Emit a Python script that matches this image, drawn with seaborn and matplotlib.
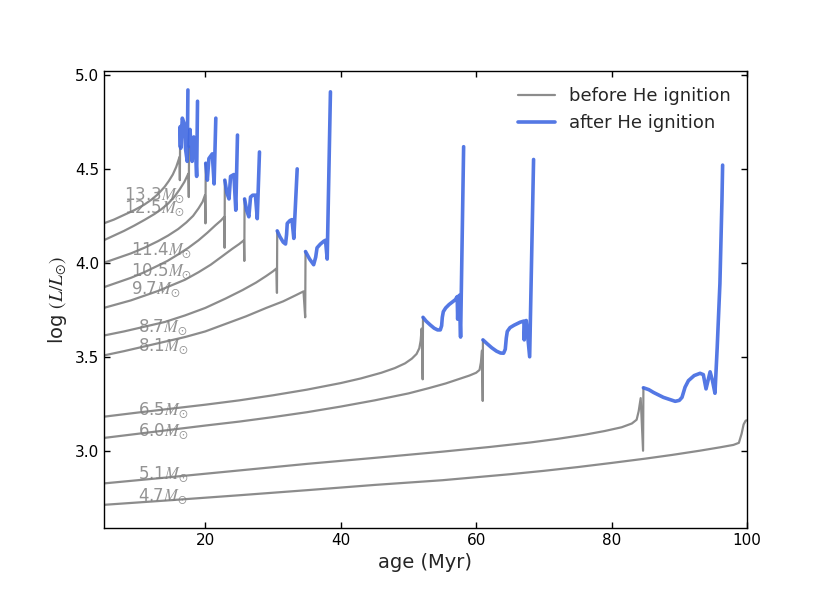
import matplotlib
matplotlib.use("Agg")
import matplotlib.pyplot as plt
from matplotlib.lines import Line2D
import pandas as pd
import seaborn as sns

# stellar masses of the tracks (Msun), top to bottom
masses = [13.3, 12.5, 11.4, 10.5, 9.7, 8.7, 8.1, 6.5, 6.0, 5.1, 4.7]

# where the mass labels sit (age, log L at baseline)
label_ages = [8.0, 8.0, 9.0, 9.0, 9.0, 10.0, 10.0, 10.0, 10.0, 10.0, 10.0]
label_lums = [4.337, 4.266, 4.045, 3.933, 3.836, 3.635, 3.533, 3.19, 3.08, 2.849, 2.733]

# ---- 13.3 Msun ----
pre_13_3_age = [5.0, 6.5, 8.0, 9.5, 11.0, 12.0, 13.0, 14.0, 14.6, 15.2, 15.7, 16.2,
                16.24, 16.27]
pre_13_3_lum = [4.21, 4.23, 4.255, 4.28, 4.31, 4.335, 4.365, 4.405, 4.435, 4.47, 4.51, 4.564,
                4.44, 4.62]
post_13_3_age = [16.27, 16.30, 16.37, 16.6, 16.85, 17.1, 17.33, 17.43]
post_13_3_lum = [4.62, 4.725, 4.61, 4.77, 4.745, 4.60, 4.54, 4.92]

# ---- 12.5 Msun ----
pre_12_5_age = [5.0, 6.5, 8.0, 9.5, 11.0, 12.5, 13.5, 14.5, 15.4, 16.2, 16.9, 17.5,
                17.56, 17.6]
pre_12_5_lum = [4.12, 4.145, 4.17, 4.198, 4.228, 4.26, 4.285, 4.315, 4.35, 4.39, 4.43, 4.475,
                4.35, 4.62]
post_12_5_age = [17.6, 17.73, 18.05, 18.3, 18.5, 18.72, 18.85]
post_12_5_lum = [4.62, 4.71, 4.54, 4.67, 4.64, 4.46, 4.86]

# ---- 11.4 Msun ----
pre_11_4_age = [5.0, 7.0, 9.0, 11.0, 13.0, 14.5, 16.0, 17.2, 18.2, 19.0, 19.6, 19.95,
                20.02, 20.06]
pre_11_4_lum = [4.0, 4.025, 4.05, 4.08, 4.115, 4.145, 4.18, 4.215, 4.25, 4.29, 4.325, 4.36,
                4.21, 4.53]
post_11_4_age = [20.06, 20.3, 20.53, 21.03, 21.3, 21.55]
post_11_4_lum = [4.53, 4.44, 4.555, 4.58, 4.42, 4.77]

# ---- 10.5 Msun ----
pre_10_5_age = [5.0, 7.0, 9.0, 11.0, 13.0, 14.4, 16.0, 17.5, 19.0, 20.3, 21.5, 22.3,
                22.8, 22.85, 22.88]
pre_10_5_lum = [3.87, 3.895, 3.92, 3.95, 3.985, 4.01, 4.045, 4.08, 4.12, 4.16, 4.2, 4.225,
                4.245, 4.08, 4.44]
post_10_5_age = [22.88, 23.2, 23.5, 23.73, 24.22, 24.5, 24.75]
post_10_5_lum = [4.44, 4.37, 4.34, 4.46, 4.47, 4.28, 4.68]

# ---- 9.7 Msun ----
pre_9_7_age = [5.0, 7.0, 9.0, 11.0, 13.0, 15.0, 17.0, 19.0, 20.8, 22.5, 24.0, 25.0,
               25.7, 25.76, 25.8]
pre_9_7_lum = [3.76, 3.78, 3.80, 3.825, 3.85, 3.88, 3.91, 3.95, 3.99, 4.035, 4.075, 4.10,
               4.12, 4.01, 4.34]
post_9_7_age = [25.8, 26.1, 26.43, 26.68, 27.0, 27.4, 27.67, 28.0]
post_9_7_lum = [4.34, 4.28, 4.245, 4.35, 4.36, 4.36, 4.235, 4.59]

# ---- 8.7 Msun ----
pre_8_7_age = [5.0, 8.0, 11.0, 14.0, 17.0, 20.0, 23.0, 25.5, 27.5, 29.0, 30.0, 30.5,
               30.58, 30.62]
pre_8_7_lum = [3.613, 3.635, 3.66, 3.685, 3.72, 3.76, 3.81, 3.855, 3.895, 3.93, 3.955, 3.97,
               3.84, 4.17]
post_8_7_age = [30.62, 31.0, 31.5, 31.85, 32.0, 32.1, 32.5, 32.8, 33.07, 33.57]
post_8_7_lum = [4.17, 4.14, 4.11, 4.10, 4.15, 4.21, 4.225, 4.23, 4.13, 4.50]

# ---- 8.1 Msun ----
pre_8_1_age = [5.0, 8.0, 11.0, 14.0, 17.0, 20.0, 23.0, 26.0, 29.0, 31.5, 33.5, 34.5,
               34.75, 34.8]
pre_8_1_lum = [3.507, 3.53, 3.555, 3.58, 3.605, 3.635, 3.675, 3.715, 3.76, 3.795, 3.83, 3.848,
               3.71, 4.06]
post_8_1_age = [34.8, 35.4, 36.0, 36.3, 36.5, 37.0, 37.5, 37.75, 38.0, 38.48]
post_8_1_lum = [4.06, 4.02, 3.99, 4.03, 4.08, 4.10, 4.115, 4.12, 4.02, 4.91]

# ---- 6.5 Msun ----
pre_6_5_age = [5.0, 10.0, 15.0, 20.0, 25.0, 30.0, 35.0, 40.0, 43.0, 46.0, 48.0, 49.5,
               50.5, 51.2, 51.6, 51.8, 51.95, 52.1, 52.15]
pre_6_5_lum = [3.181, 3.203, 3.224, 3.245, 3.268, 3.295, 3.325, 3.36, 3.385, 3.415, 3.44, 3.465,
               3.49, 3.515, 3.545, 3.585, 3.65, 3.38, 3.71]
post_6_5_age = [52.15, 52.6, 53.2, 53.8, 54.3, 54.7, 54.9, 55.0, 55.15, 55.5, 56.0, 56.5,
                56.93, 57.2, 57.27, 57.35, 57.5, 57.7, 58.15]
post_6_5_lum = [3.71, 3.69, 3.67, 3.652, 3.643, 3.643, 3.665, 3.71, 3.74, 3.76, 3.778, 3.792,
                3.804, 3.82, 3.70, 3.81, 3.827, 3.605, 4.618]

# ---- 6.0 Msun ----
pre_6_0_age = [5.0, 10.0, 15.0, 20.0, 25.0, 30.0, 35.0, 40.0, 45.0, 50.0, 53.0, 55.5,
               57.5, 59.0, 60.0, 60.5, 60.7, 60.86, 60.97, 61.0]
pre_6_0_lum = [3.068, 3.09, 3.112, 3.134, 3.155, 3.179, 3.205, 3.235, 3.268, 3.305, 3.333, 3.358,
               3.382, 3.40, 3.415, 3.43, 3.47, 3.533, 3.265, 3.59]
post_6_0_age = [61.0, 61.6, 62.3, 63.0, 63.6, 64.05, 64.3, 64.45, 64.6, 65.0, 65.6, 66.5,
                67.05, 67.1, 67.2, 67.4, 67.9, 68.48]
post_6_0_lum = [3.59, 3.57, 3.548, 3.53, 3.52, 3.519, 3.54, 3.60, 3.635, 3.655, 3.668, 3.684,
                3.69, 3.59, 3.68, 3.693, 3.50, 4.55]

# ---- 5.1 Msun ----
pre_5_1_age = [5.0, 15.0, 25.0, 35.0, 45.0, 55.0, 62.0, 68.0, 72.0, 76.0, 79.0, 81.5,
               83.0, 83.7, 84.0, 84.3, 84.65, 84.7]
pre_5_1_lum = [2.826, 2.86, 2.895, 2.93, 2.962, 2.995, 3.02, 3.044, 3.063, 3.085, 3.105, 3.125,
               3.145, 3.165, 3.21, 3.28, 3.0, 3.335]
post_5_1_age = [84.7, 85.5, 86.2, 87.65, 89.4, 90.0, 90.4, 90.85, 91.35, 92.2, 93.07,
                93.55, 93.95, 94.55, 94.9, 95.27, 95.6, 96.0, 96.3, 96.4]
post_5_1_lum = [3.335, 3.325, 3.31, 3.284, 3.263, 3.268, 3.284, 3.338, 3.373, 3.40, 3.412,
                3.405, 3.329, 3.42, 3.373, 3.306, 3.55, 3.89, 4.33, 4.52]

# ---- 4.7 Msun (no He ignition within 100 Myr) ----
pre_4_7_age = [5.0, 15.0, 25.0, 35.0, 45.0, 55.0, 65.0, 70.0, 75.0, 80.0, 85.0, 89.0,
               93.0, 96.0, 98.0, 98.8, 99.2, 99.5, 99.8, 100.0]
pre_4_7_lum = [2.712, 2.737, 2.763, 2.79, 2.818, 2.843, 2.875, 2.893, 2.913, 2.935, 2.958, 2.978,
               3.0, 3.018, 3.031, 3.042, 3.09, 3.14, 3.16, 3.162]
post_4_7_age = []
post_4_7_lum = []

tracks = [
    (pre_13_3_age, pre_13_3_lum, post_13_3_age, post_13_3_lum),
    (pre_12_5_age, pre_12_5_lum, post_12_5_age, post_12_5_lum),
    (pre_11_4_age, pre_11_4_lum, post_11_4_age, post_11_4_lum),
    (pre_10_5_age, pre_10_5_lum, post_10_5_age, post_10_5_lum),
    (pre_9_7_age, pre_9_7_lum, post_9_7_age, post_9_7_lum),
    (pre_8_7_age, pre_8_7_lum, post_8_7_age, post_8_7_lum),
    (pre_8_1_age, pre_8_1_lum, post_8_1_age, post_8_1_lum),
    (pre_6_5_age, pre_6_5_lum, post_6_5_age, post_6_5_lum),
    (pre_6_0_age, pre_6_0_lum, post_6_0_age, post_6_0_lum),
    (pre_5_1_age, pre_5_1_lum, post_5_1_age, post_5_1_lum),
    (pre_4_7_age, pre_4_7_lum, post_4_7_age, post_4_7_lum),
]

PRE = "before He ignition"
POST = "after He ignition"

# long-form table: one row per point
rows = []
for m, (a0, l0, a1, l1) in zip(masses, tracks):
    for a, l in zip(a0, l0):
        rows.append({"age": a, "logL": l, "mass": m, "phase": PRE})
    for a, l in zip(a1, l1):
        rows.append({"age": a, "logL": l, "mass": m, "phase": POST})
df = pd.DataFrame(rows)

sns.set_theme(style="ticks")
plt.rcParams["font.family"] = ["DejaVu Sans"]
plt.rcParams["mathtext.fontset"] = "stix"
plt.rcParams["axes.edgecolor"] = "black"
plt.rcParams["xtick.color"] = "black"
plt.rcParams["ytick.color"] = "black"

colors = {PRE: "gray", POST: "royalblue"}
widths = {PRE: 1.6, POST: 2.6}

fig, ax = plt.subplots(figsize=(8.3, 5.93), dpi=100)
sns.lineplot(data=df, x="age", y="logL", hue="phase", size="phase",
             hue_order=[PRE, POST], size_order=[PRE, POST],
             palette=colors, sizes=widths, units="mass", estimator=None,
             sort=False, alpha=0.9, legend=False, ax=ax)

for m, xa, yl in zip(masses, label_ages, label_lums):
    ax.text(xa, yl, f"{m}" + r"$M_{\odot}$", color="gray", alpha=0.85,
            fontsize=12, ha="left", va="baseline")

ax.set_xlim(5, 100)
ax.set_ylim(2.59, 5.02)
ax.set_xticks([20, 40, 60, 80, 100])
ax.set_yticks([3.0, 3.5, 4.0, 4.5, 5.0])
ax.tick_params(direction="in", top=True, right=True, labelsize=11,
               length=4, width=1)
for s in ax.spines.values():
    s.set_linewidth(1)
ax.set_xlabel("age (Myr)", fontsize=14)
ax.set_ylabel(r"log $(L/L_{\odot})$", fontsize=14)

handles = [Line2D([], [], color=colors[PRE], lw=widths[PRE], alpha=0.9),
           Line2D([], [], color=colors[POST], lw=widths[POST], alpha=0.9)]
ax.legend(handles, [PRE, POST], loc="upper right", frameon=False, fontsize=13)

fig.savefig("out.png", dpi=100)
